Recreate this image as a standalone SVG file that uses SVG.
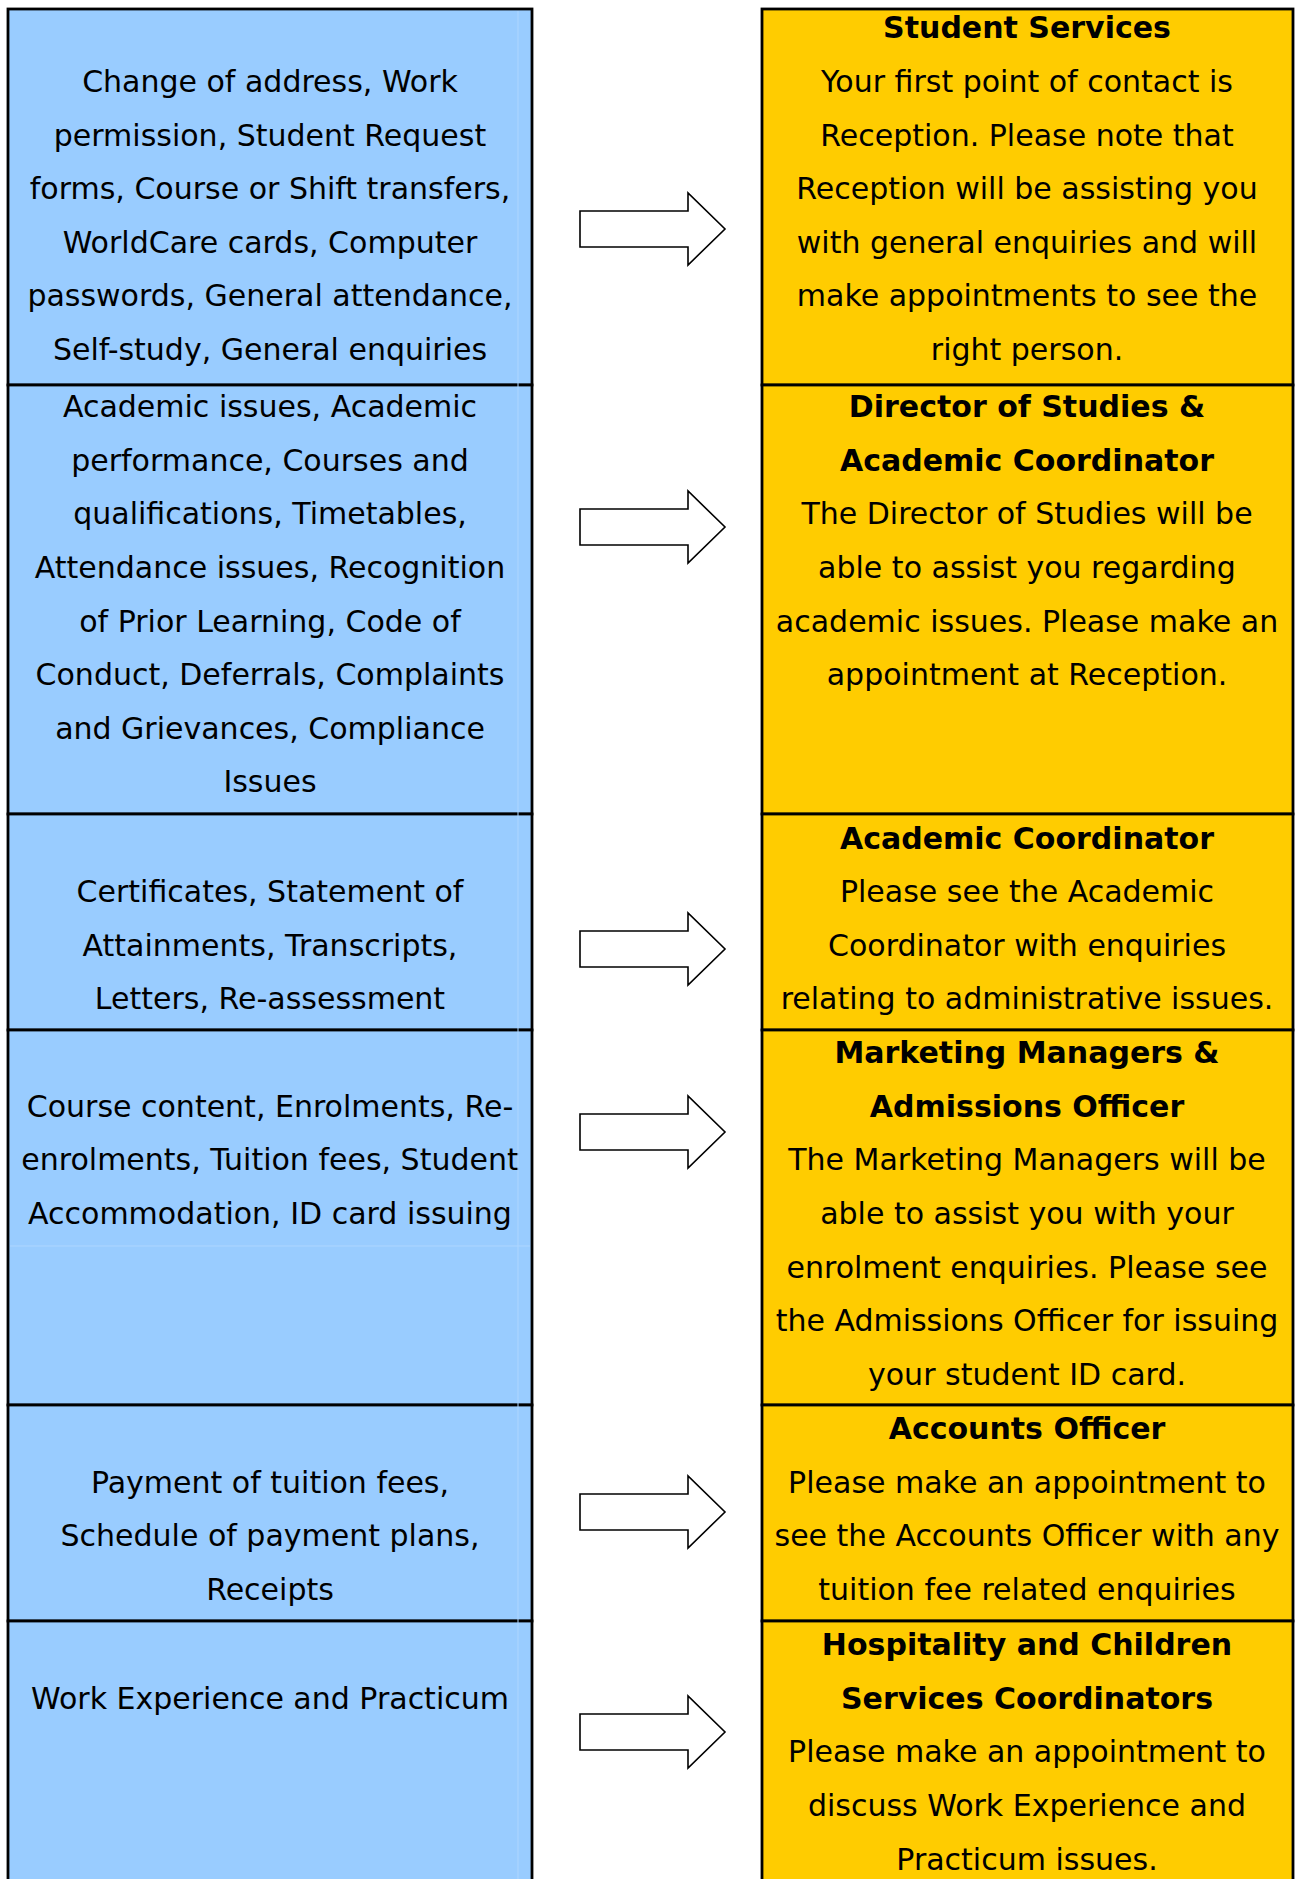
<svg xmlns="http://www.w3.org/2000/svg" width="1298" height="1879" viewBox="0 0 1298 1879">
  <style>
    .topic { fill: #99ccff; stroke: #000; stroke-width: 2.8; }
    .office { fill: #ffcc00; stroke: #000; stroke-width: 2.8; }
    .seam { stroke: #aed6ff; stroke-width: 1; fill: none; }
    text { font-family: "DejaVu Sans", Verdana, sans-serif; font-size: 30px; fill: #000; text-anchor: middle; }
    .head { font-weight: bold; }
    .arrow { fill: #fff; stroke: #000; stroke-width: 1.6; stroke-linejoin: miter; }
  </style>
  <defs>
    <!-- block arrow centred vertically on y=0 -->
    <path id="blockArrow" class="arrow" d="M580,-18 H688 V-36 L725,0 L688,36 V18 H580 Z"/>
  </defs>
  <rect width="1298" height="1879" fill="#fff"/>

  <g transform="translate(0,2)">
  <!-- Row 1 -->
  <g id="topic-general">
    <rect class="topic" x="8" y="7" width="524" height="376"/>
    <text x="270" y="90">Change of address, Work</text>
    <text x="270" y="144">permission, Student Request</text>
    <text x="270" y="197">forms, Course or Shift transfers,</text>
    <text x="270" y="251">WorldCare cards, Computer</text>
    <text x="270" y="304">passwords, General attendance,</text>
    <text x="270" y="358">Self-study, General enquiries</text>
  </g>
  <g id="office-student-services">
    <rect class="office" x="762" y="7" width="531" height="376"/>
    <text class="head" x="1027" y="36">Student Services</text>
    <text x="1027" y="90">Your first point of contact is</text>
    <text x="1027" y="144">Reception. Please note that</text>
    <text x="1027" y="197">Reception will be assisting you</text>
    <text x="1027" y="251">with general enquiries and will</text>
    <text x="1027" y="304">make appointments to see the</text>
    <text x="1027" y="358">right person.</text>
  </g>

  <!-- Row 2 -->
  <g id="topic-academic">
    <rect class="topic" x="8" y="383" width="524" height="429"/>
    <text x="270" y="415">Academic issues, Academic</text>
    <text x="270" y="469">performance, Courses and</text>
    <text x="270" y="522">qualifications, Timetables,</text>
    <text x="270" y="576">Attendance issues, Recognition</text>
    <text x="270" y="630">of Prior Learning, Code of</text>
    <text x="270" y="683">Conduct, Deferrals, Complaints</text>
    <text x="270" y="737">and Grievances, Compliance</text>
    <text x="270" y="790">Issues</text>
  </g>
  <g id="office-director">
    <rect class="office" x="762" y="383" width="531" height="429"/>
    <text class="head" x="1027" y="415">Director of Studies &amp;</text>
    <text class="head" x="1027" y="469">Academic Coordinator</text>
    <text x="1027" y="522">The Director of Studies will be</text>
    <text x="1027" y="576">able to assist you regarding</text>
    <text x="1027" y="630">academic issues. Please make an</text>
    <text x="1027" y="683">appointment at Reception.</text>
  </g>

  <!-- Row 3 -->
  <g id="topic-certificates">
    <rect class="topic" x="8" y="812" width="524" height="216"/>
    <text x="270" y="900">Certificates, Statement of</text>
    <text x="270" y="954">Attainments, Transcripts,</text>
    <text x="270" y="1007">Letters, Re-assessment</text>
  </g>
  <g id="office-academic-coordinator">
    <rect class="office" x="762" y="812" width="531" height="216"/>
    <text class="head" x="1027" y="847">Academic Coordinator</text>
    <text x="1027" y="900">Please see the Academic</text>
    <text x="1027" y="954">Coordinator with enquiries</text>
    <text x="1027" y="1007">relating to administrative issues.</text>
  </g>

  <!-- Row 4 -->
  <g id="topic-enrolment">
    <rect class="topic" x="8" y="1028" width="524" height="375"/>
    <text x="270" y="1115">Course content, Enrolments, Re-</text>
    <text x="270" y="1168">enrolments, Tuition fees, Student</text>
    <text x="270" y="1222">Accommodation, ID card issuing</text>
    <line class="seam" x1="10" y1="1244" x2="530" y2="1244"/>
  </g>
  <g id="office-marketing">
    <rect class="office" x="762" y="1028" width="531" height="375"/>
    <text class="head" x="1027" y="1061">Marketing Managers &amp;</text>
    <text class="head" x="1027" y="1115">Admissions Officer</text>
    <text x="1027" y="1168">The Marketing Managers will be</text>
    <text x="1027" y="1222">able to assist you with your</text>
    <text x="1027" y="1276">enrolment enquiries. Please see</text>
    <text x="1027" y="1329">the Admissions Officer for issuing</text>
    <text x="1027" y="1383">your student ID card.</text>
  </g>

  <!-- Row 5 -->
  <g id="topic-payment">
    <rect class="topic" x="8" y="1403" width="524" height="216"/>
    <text x="270" y="1491">Payment of tuition fees,</text>
    <text x="270" y="1544">Schedule of payment plans,</text>
    <text x="270" y="1598">Receipts</text>
  </g>
  <g id="office-accounts">
    <rect class="office" x="762" y="1403" width="531" height="216"/>
    <text class="head" x="1027" y="1437">Accounts Officer</text>
    <text x="1027" y="1491">Please make an appointment to</text>
    <text x="1027" y="1544">see the Accounts Officer with any</text>
    <text x="1027" y="1598">tuition fee related enquiries</text>
  </g>

  <!-- Row 6 (runs off the bottom edge) -->
  <g id="topic-work-experience">
    <rect class="topic" x="8" y="1619" width="524" height="280"/>
    <text x="270" y="1707">Work Experience and Practicum</text>
  </g>
  <g id="office-hospitality">
    <rect class="office" x="762" y="1619" width="531" height="280"/>
    <text class="head" x="1027" y="1653">Hospitality and Children</text>
    <text class="head" x="1027" y="1707">Services Coordinators</text>
    <text x="1027" y="1760">Please make an appointment to</text>
    <text x="1027" y="1814">discuss Work Experience and</text>
    <text x="1027" y="1868">Practicum issues.</text>
  </g>
  </g>

  <!-- faint inner cell seam in the topic column -->
  <line class="seam" x1="518" y1="11" x2="518" y2="1879"/>

  <!-- Connectors -->
  <g id="connectors">
    <use href="#blockArrow" y="229"/>
    <use href="#blockArrow" y="527"/>
    <use href="#blockArrow" y="949"/>
    <use href="#blockArrow" y="1132"/>
    <use href="#blockArrow" y="1512"/>
    <use href="#blockArrow" y="1732"/>
  </g>
</svg>
